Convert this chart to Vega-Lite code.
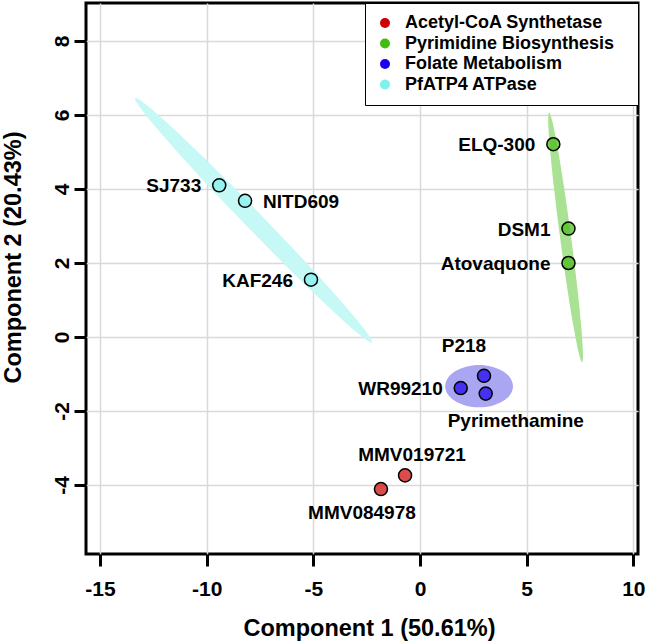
{
  "$schema": "https://vega.github.io/schema/vega-lite/v6.json",
  "width": 552,
  "height": 551,
  "autosize": "none",
  "padding": {"left": 86, "top": 3, "right": 9, "bottom": 89},
  "background": "white",
  "config": {
    "view": {"stroke": "black", "strokeWidth": 3},
    "font": "Liberation Sans",
    "axis": {
      "domain": false, "grid": true, "gridColor": "#d9d9d9", "gridWidth": 1.5,
      "tickColor": "black", "tickWidth": 3, "tickSize": 12,
      "labelFont": "Liberation Sans", "labelFontWeight": "bold", "labelFontSize": 21, "labelColor": "black",
      "labelFlush": false, "labelOverlap": false,
      "labelExpr": "toString(datum.value)",
      "titleFont": "Liberation Sans", "titleFontWeight": "bold", "titleFontSize": 23.5, "titleColor": "black"
    }
  },
  "datasets": {
    "points": [
      {"name": "SJ733", "group": "PfATP4 ATPase", "x": -9.41, "y": 4.10},
      {"name": "NITD609", "group": "PfATP4 ATPase", "x": -8.20, "y": 3.68},
      {"name": "KAF246", "group": "PfATP4 ATPase", "x": -5.11, "y": 1.55},
      {"name": "ELQ-300", "group": "Pyrimidine Biosynthesis", "x": 6.25, "y": 5.21},
      {"name": "DSM1", "group": "Pyrimidine Biosynthesis", "x": 6.96, "y": 2.93},
      {"name": "Atovaquone", "group": "Pyrimidine Biosynthesis", "x": 6.96, "y": 2.00},
      {"name": "WR99210", "group": "Folate Metabolism", "x": 1.91, "y": -1.38},
      {"name": "P218", "group": "Folate Metabolism", "x": 3.00, "y": -1.05},
      {"name": "Pyrimethamine", "group": "Folate Metabolism", "x": 3.08, "y": -1.53},
      {"name": "MMV019721", "group": "Acetyl-CoA Synthetase", "x": -0.70, "y": -3.74},
      {"name": "MMV084978", "group": "Acetyl-CoA Synthetase", "x": -1.83, "y": -4.11}
    ],
    "ellipses": [
      {"group": "PfATP4 ATPase", "i": 0, "x": -2.25, "y": -0.145},
      {"group": "PfATP4 ATPase", "i": 1, "x": -2.556, "y": 0.171},
      {"group": "PfATP4 ATPase", "i": 2, "x": -3.662, "y": 0.941},
      {"group": "PfATP4 ATPase", "i": 3, "x": -5.394, "y": 2.047},
      {"group": "PfATP4 ATPase", "i": 4, "x": -7.497, "y": 3.324},
      {"group": "PfATP4 ATPase", "i": 5, "x": -9.646, "y": 4.575},
      {"group": "PfATP4 ATPase", "i": 6, "x": -11.51, "y": 5.607},
      {"group": "PfATP4 ATPase", "i": 7, "x": -12.812, "y": 6.269},
      {"group": "PfATP4 ATPase", "i": 8, "x": -13.35, "y": 6.455},
      {"group": "PfATP4 ATPase", "i": 9, "x": -13.044, "y": 6.139},
      {"group": "PfATP4 ATPase", "i": 10, "x": -11.938, "y": 5.369},
      {"group": "PfATP4 ATPase", "i": 11, "x": -10.206, "y": 4.263},
      {"group": "PfATP4 ATPase", "i": 12, "x": -8.103, "y": 2.986},
      {"group": "PfATP4 ATPase", "i": 13, "x": -5.954, "y": 1.735},
      {"group": "PfATP4 ATPase", "i": 14, "x": -4.09, "y": 0.703},
      {"group": "PfATP4 ATPase", "i": 15, "x": -2.788, "y": 0.041},
      {"group": "Pyrimidine Biosynthesis", "i": 0, "x": 7.60, "y": -0.68},
      {"group": "Pyrimidine Biosynthesis", "i": 1, "x": 7.639, "y": -0.416},
      {"group": "Pyrimidine Biosynthesis", "i": 2, "x": 7.553, "y": 0.323},
      {"group": "Pyrimidine Biosynthesis", "i": 3, "x": 7.358, "y": 1.42},
      {"group": "Pyrimidine Biosynthesis", "i": 4, "x": 7.08, "y": 2.715},
      {"group": "Pyrimidine Biosynthesis", "i": 5, "x": 6.764, "y": 4.006},
      {"group": "Pyrimidine Biosynthesis", "i": 6, "x": 6.457, "y": 5.095},
      {"group": "Pyrimidine Biosynthesis", "i": 7, "x": 6.207, "y": 5.822},
      {"group": "Pyrimidine Biosynthesis", "i": 8, "x": 6.05, "y": 6.07},
      {"group": "Pyrimidine Biosynthesis", "i": 9, "x": 6.011, "y": 5.806},
      {"group": "Pyrimidine Biosynthesis", "i": 10, "x": 6.097, "y": 5.067},
      {"group": "Pyrimidine Biosynthesis", "i": 11, "x": 6.292, "y": 3.97},
      {"group": "Pyrimidine Biosynthesis", "i": 12, "x": 6.57, "y": 2.675},
      {"group": "Pyrimidine Biosynthesis", "i": 13, "x": 6.886, "y": 1.384},
      {"group": "Pyrimidine Biosynthesis", "i": 14, "x": 7.193, "y": 0.295},
      {"group": "Pyrimidine Biosynthesis", "i": 15, "x": 7.443, "y": -0.432},
      {"group": "Folate Metabolism", "i": 0, "x": 4.36, "y": -1.33},
      {"group": "Folate Metabolism", "i": 1, "x": 4.239, "y": -1.112},
      {"group": "Folate Metabolism", "i": 2, "x": 3.894, "y": -0.927},
      {"group": "Folate Metabolism", "i": 3, "x": 3.379, "y": -0.803},
      {"group": "Folate Metabolism", "i": 4, "x": 2.77, "y": -0.76},
      {"group": "Folate Metabolism", "i": 5, "x": 2.161, "y": -0.803},
      {"group": "Folate Metabolism", "i": 6, "x": 1.646, "y": -0.927},
      {"group": "Folate Metabolism", "i": 7, "x": 1.301, "y": -1.112},
      {"group": "Folate Metabolism", "i": 8, "x": 1.18, "y": -1.33},
      {"group": "Folate Metabolism", "i": 9, "x": 1.301, "y": -1.548},
      {"group": "Folate Metabolism", "i": 10, "x": 1.646, "y": -1.733},
      {"group": "Folate Metabolism", "i": 11, "x": 2.161, "y": -1.857},
      {"group": "Folate Metabolism", "i": 12, "x": 2.77, "y": -1.90},
      {"group": "Folate Metabolism", "i": 13, "x": 3.379, "y": -1.857},
      {"group": "Folate Metabolism", "i": 14, "x": 3.894, "y": -1.733},
      {"group": "Folate Metabolism", "i": 15, "x": 4.239, "y": -1.548}
    ]
  },
  "encoding": {
    "x": {
      "field": "x", "type": "quantitative",
      "scale": {"domain": [-15.656, 10.219], "nice": false, "zero": false},
      "axis": {
        "values": [-15, -10, -5, 0, 5, 10],
        "title": "Component 1 (50.61%)",
        "labelBaseline": "alphabetic", "labelPadding": 29,
        "titleX": 283, "titleY": 81, "titleAlign": "center", "titleBaseline": "alphabetic"
      }
    },
    "y": {
      "field": "y", "type": "quantitative",
      "scale": {"domain": [-5.865, 9.027], "nice": false, "zero": false},
      "axis": {
        "values": [-4, -2, 0, 2, 4, 6, 8],
        "title": "Component 2 (20.43%)",
        "labelAngle": -90, "labelAlign": "center", "labelBaseline": "alphabetic", "labelPadding": 6,
        "titleAngle": -90, "titleX": -66, "titleY": 254, "titleAlign": "center", "titleBaseline": "alphabetic"
      }
    }
  },
  "layer": [
    {
      "data": {"name": "ellipses"},
      "transform": [{"filter": "datum.group === 'PfATP4 ATPase'"}],
      "mark": {"type": "line", "interpolate": "cardinal-closed", "fill": "#c6f8f5", "stroke": "transparent", "strokeWidth": 0},
      "encoding": {"order": {"field": "i", "type": "quantitative"}}
    },
    {
      "data": {"name": "ellipses"},
      "transform": [{"filter": "datum.group === 'Pyrimidine Biosynthesis'"}],
      "mark": {"type": "line", "interpolate": "cardinal-closed", "fill": "#aae294", "stroke": "transparent", "strokeWidth": 0},
      "encoding": {"order": {"field": "i", "type": "quantitative"}}
    },
    {
      "data": {"name": "ellipses"},
      "transform": [{"filter": "datum.group === 'Folate Metabolism'"}],
      "mark": {"type": "line", "interpolate": "cardinal-closed", "fill": "#aba6f2", "stroke": "transparent", "strokeWidth": 0},
      "encoding": {"order": {"field": "i", "type": "quantitative"}}
    },
    {
      "data": {"name": "points"},
      "mark": {"type": "point", "shape": "circle", "filled": true, "size": 170, "stroke": "black", "strokeWidth": 1.5, "opacity": 1, "fillOpacity": 0.7},
      "encoding": {
        "fill": {
          "field": "group", "type": "nominal",
          "scale": {
            "domain": ["Acetyl-CoA Synthetase", "Pyrimidine Biosynthesis", "Folate Metabolism", "PfATP4 ATPase"],
            "range": ["#cc0000", "#44bb11", "#1a00ee", "#7ff0f0"]
          },
          "legend": {
            "title": " ", "titleOrient": "right", "titlePadding": 13, "titleFontSize": 10,
            "orient": "top-right", "offset": 0,
            "fillColor": "white", "strokeColor": "black", "padding": 11,
            "labelFont": "Liberation Sans", "labelFontSize": 18, "labelFontWeight": "bold", "labelColor": "black",
            "labelLimit": 400,
            "symbolType": "circle", "symbolSize": 100, "symbolStrokeWidth": 0, "symbolOpacity": 1,
            "rowPadding": 2.5, "labelOffset": 11,
            "encode": {"legend": {"update": {"strokeWidth": {"value": 3}}}}
          }
        }
      }
    },
    {
      "data": {"name": "points"},
      "transform": [{"filter": {"field": "name", "oneOf": ["SJ733", "KAF246", "ELQ-300", "DSM1", "Atovaquone", "WR99210"]}}],
      "mark": {"type": "text", "font": "Liberation Sans", "fontWeight": "bold", "fontSize": 19, "color": "black", "align": "right", "baseline": "alphabetic", "dx": -18, "dy": 7},
      "encoding": {"text": {"field": "name"}}
    },
    {
      "data": {"name": "points"},
      "transform": [{"filter": {"field": "name", "oneOf": ["NITD609"]}}],
      "mark": {"type": "text", "font": "Liberation Sans", "fontWeight": "bold", "fontSize": 19, "color": "black", "align": "left", "baseline": "alphabetic", "dx": 18, "dy": 7},
      "encoding": {"text": {"field": "name"}}
    },
    {
      "data": {"name": "points"},
      "transform": [{"filter": {"field": "name", "oneOf": ["P218"]}}],
      "mark": {"type": "text", "font": "Liberation Sans", "fontWeight": "bold", "fontSize": 19, "color": "black", "align": "center", "baseline": "alphabetic", "dx": -20, "dy": -24},
      "encoding": {"text": {"field": "name"}}
    },
    {
      "data": {"name": "points"},
      "transform": [{"filter": {"field": "name", "oneOf": ["Pyrimethamine"]}}],
      "mark": {"type": "text", "font": "Liberation Sans", "fontWeight": "bold", "fontSize": 19, "color": "black", "align": "left", "baseline": "alphabetic", "dx": -38, "dy": 33},
      "encoding": {"text": {"field": "name"}}
    },
    {
      "data": {"name": "points"},
      "transform": [{"filter": {"field": "name", "oneOf": ["MMV019721"]}}],
      "mark": {"type": "text", "font": "Liberation Sans", "fontWeight": "bold", "fontSize": 19, "color": "black", "align": "center", "baseline": "alphabetic", "dx": 7, "dy": -14},
      "encoding": {"text": {"field": "name"}}
    },
    {
      "data": {"name": "points"},
      "transform": [{"filter": {"field": "name", "oneOf": ["MMV084978"]}}],
      "mark": {"type": "text", "font": "Liberation Sans", "fontWeight": "bold", "fontSize": 19, "color": "black", "align": "center", "baseline": "alphabetic", "dx": -19, "dy": 30},
      "encoding": {"text": {"field": "name"}}
    }
  ]
}
